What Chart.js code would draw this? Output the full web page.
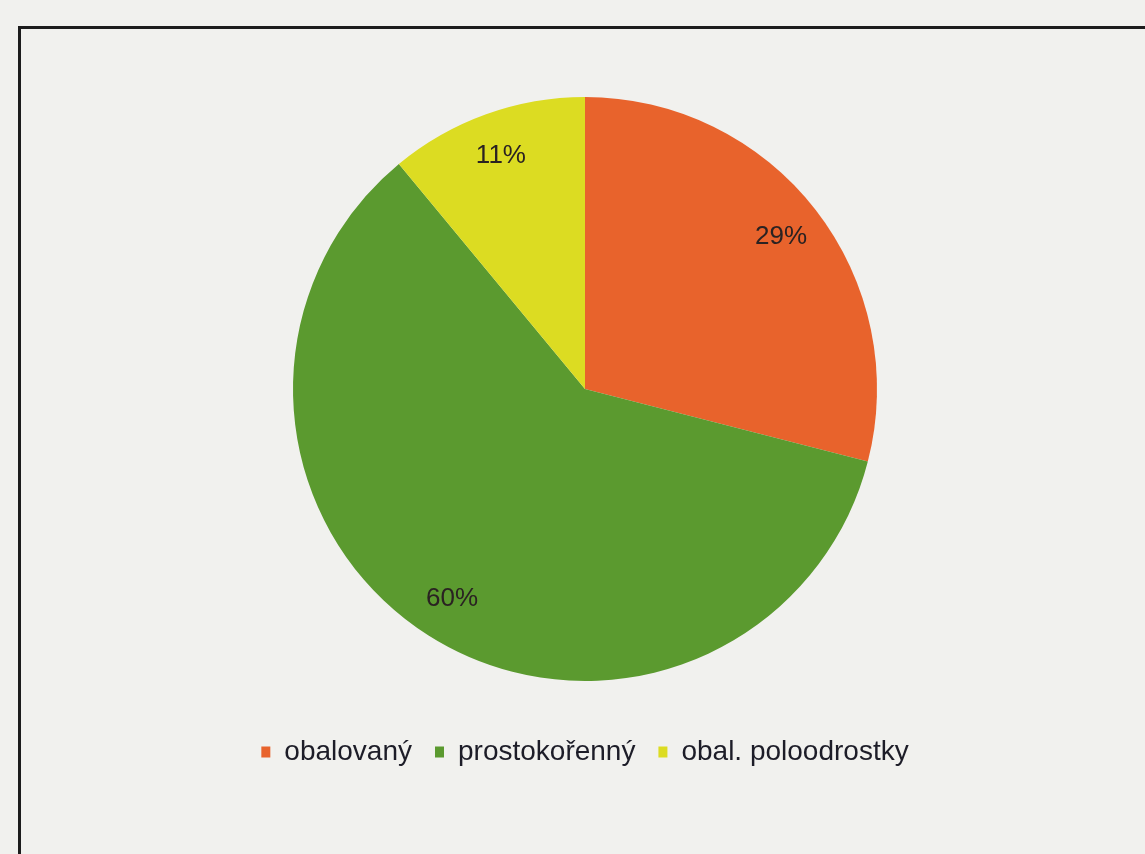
<!DOCTYPE html>
<html>
<head>
<meta charset="utf-8">
<script src="https://cdn.jsdelivr.net/npm/chart.js@4/dist/chart.umd.min.js"></script>
<style>
  html, body { margin: 0; padding: 0; background: #f1f1ee; overflow: hidden; }
  #frame { position: absolute; left: 18px; top: 26px; width: 1200px; height: 900px;
           border-left: 3px solid #1c1c1c; border-top: 3px solid #1c1c1c; }
  #wrap { position: absolute; left: 0; top: 0; width: 1145px; height: 854px; }
</style>
</head>
<body>
<div id="frame"></div>
<div id="wrap"><canvas id="pieChart" width="1145" height="854"></canvas></div>
<script>
const categories = ['obalovaný', 'prostokořenný', 'obal. poloodrostky'];
const shares = [29, 60, 11];
const sliceColors = ['#e8632c', '#5b9a2f', '#dcdc22'];

// draws the percentage inside each slice
const pctLabels = {
    id: 'pctLabels',
    afterDatasetsDraw(chart) {
        const ctx = chart.ctx;
        const meta = chart.getDatasetMeta(0);
        ctx.save();
        ctx.font = '26px "Liberation Sans", Arial, sans-serif';
        ctx.fillStyle = '#2a2222';
        ctx.textAlign = 'center';
        ctx.textBaseline = 'middle';
        meta.data.forEach(function(arc, i) {
            const p = arc.getProps(['x', 'y', 'startAngle', 'endAngle', 'outerRadius'], true);
            const mid = (p.startAngle + p.endAngle) / 2;
            const r = p.outerRadius * 0.85;
            ctx.fillText(shares[i] + '%', p.x + Math.cos(mid) * r, p.y + Math.sin(mid) * r);
        });
        ctx.restore();
    }
};

document.addEventListener('DOMContentLoaded', function() {
    const ctx = document.getElementById('pieChart').getContext('2d');

    new Chart(ctx, {
        type: 'pie',
        data: {
            labels: categories,
            datasets: [{
                data: shares,
                backgroundColor: sliceColors,
                borderWidth: 0,
                radius: 292
            }]
        },
        options: {
            responsive: false,
            animation: false,
            layout: { padding: { left: 25, right: 0, top: 63, bottom: 78 } },
            plugins: {
                legend: {
                    position: 'bottom',
                    labels: {
                        boxWidth: 9,
                        boxHeight: 11,
                        padding: 23,
                        color: '#1d1d28',
                        font: { size: 28, family: '"Liberation Sans", Arial, sans-serif' }
                    }
                },
                tooltip: { enabled: false }
            }
        },
        plugins: [pctLabels]
    });
});
</script>
</body>
</html>
